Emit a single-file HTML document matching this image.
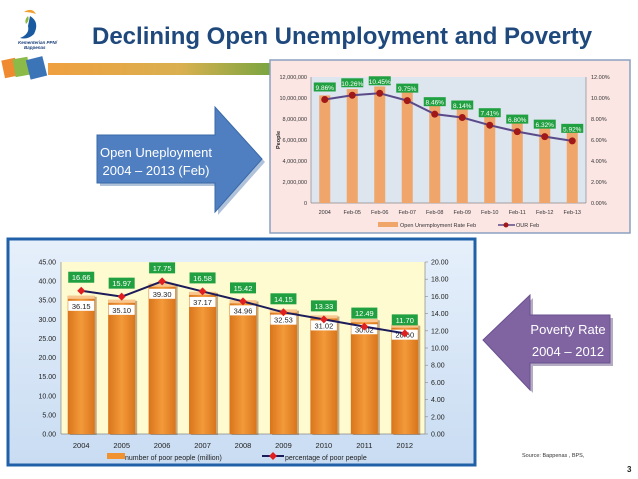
<!DOCTYPE html>
<html><head><meta charset="utf-8"><style>
body{margin:0;background:#fff;}
svg{display:block;font-family:"Liberation Sans",sans-serif;}
</style></head><body>
<svg id="s" width="638" height="479" viewBox="0 0 638 479">
<defs>
<linearGradient id="gbar" x1="0" x2="1"><stop offset="0" stop-color="#f0a040"/><stop offset="0.6" stop-color="#d9b050"/><stop offset="1" stop-color="#7aa540"/></linearGradient>
<linearGradient id="gbg" x1="0" y1="0" x2="0" y2="1"><stop offset="0" stop-color="#e6f0fb"/><stop offset="1" stop-color="#c9dcf2"/></linearGradient>
<linearGradient id="gob" x1="0" x2="1"><stop offset="0" stop-color="#d9751c"/><stop offset="0.5" stop-color="#f39a3a"/><stop offset="1" stop-color="#d9751c"/></linearGradient>
</defs>
<!-- logo -->
<g>
<path d="M24 12 q8 -5 12 2 q-6 -2 -12 -2z" fill="#f0a030"/>
<path d="M30 16 q10 6 4 18 q-6 6 -14 4 q10 -4 8 -12z" fill="#1a5aa0"/>
<path d="M28 16 q2 4 -2 8 q-2 -4 2 -8z" fill="#8ab840"/>
<text x="18" y="44" font-size="4.5" fill="#1a3f7a" font-style="italic" font-weight="bold">Kementerian PPN/</text>
<text x="24" y="49" font-size="4.5" fill="#1a3f7a" font-style="italic" font-weight="bold">Bappenas</text>
<rect x="3" y="59" width="14" height="18" fill="#ef8a30" transform="rotate(-12 10 68)"/>
<rect x="14" y="58" width="15" height="18" fill="#8cba48" transform="rotate(-10 21 67)"/>
<rect x="28" y="58" width="17" height="20" fill="#3c74b8" transform="rotate(-14 36 68)"/>
</g>
<rect x="48" y="63" width="222" height="12" fill="url(#gbar)"/>
<text x="92" y="44" font-size="24" font-weight="bold" fill="#1f497d">Declining Open Unemployment and Poverty</text>
<!-- blue arrow -->
<g>
<polygon points="100,138 218,138 218,110 265,162 218,215 218,186 100,186" fill="#7a9ac0" opacity="0.6"/>
<polygon points="97,135 215,135 215,107 262,159 215,212 215,183 97,183" fill="#4f7fc0" stroke="#3a68a8"/>
<text x="156" y="157" font-size="13" fill="#fff" text-anchor="middle">Open Uneployment</text>
<text x="156" y="175" font-size="13" fill="#fff" text-anchor="middle">2004 – 2013 (Feb)</text>
</g>
<!-- purple arrow -->
<g>
<polygon points="486,343 533,298 533,318 613,318 613,366 533,366 533,393" fill="#6a5a88" opacity="0.5"/>
<polygon points="483,340 530,295 530,315 610,315 610,363 530,363 530,390" fill="#8064a2" stroke="#6a5090"/>
<text x="568" y="334" font-size="13" fill="#fff" text-anchor="middle">Poverty Rate</text>
<text x="568" y="356" font-size="13" fill="#fff" text-anchor="middle">2004 – 2012</text>
</g>
<text x="522" y="457" font-size="5.5" fill="#333">Source: Bappenas , BPS,</text>
<text x="627" y="472" font-size="8" font-weight="bold" fill="#222">3</text>
<g id="top"></g>
<g id="bot"></g>
</svg>
<script>
const topCats=["2004","Feb-05","Feb-06","Feb-07","Feb-08","Feb-09","Feb-10","Feb-11","Feb-12","Feb-13"];
const topPeople=[10250000,10850000,11100000,10550000,9430000,9260000,8590000,8120000,7610000,7170000];
const topRate=[9.86,10.26,10.45,9.75,8.46,8.14,7.41,6.80,6.32,5.92];
const topLeftTicks=[0,2000000,4000000,6000000,8000000,10000000,12000000];
const topRightTicks=[0,2,4,6,8,10,12];
const botCats=["2004","2005","2006","2007","2008","2009","2010","2011","2012"];
const botPoor=[36.15,35.10,39.30,37.17,34.96,32.53,31.02,30.02,28.60];
const botPct=[16.66,15.97,17.75,16.58,15.42,14.15,13.33,12.49,11.70];
const botLeftTicks=[0,5,10,15,20,25,30,35,40,45];
const botRightTicks=[0,2,4,6,8,10,12,14,16,18,20];
const NS="http://www.w3.org/2000/svg";
function mk(p,t,a,txt){const e=document.createElementNS(NS,t);for(const k in a)e.setAttribute(k,a[k]);if(txt!==undefined)e.textContent=txt;p.appendChild(e);return e;}
function fmt(n){return n.toString().replace(/\B(?=(\d{3})+(?!\d))/g,",");}
// TOP
(function(){
const g=document.getElementById('top');
const X0=311,X1=586,Y0=203,Y1=77;
const yL=v=>Y0-(v/12000000)*(Y0-Y1);
const yR=v=>Y0-(v/12)*(Y0-Y1);
const bw=(X1-X0)/topCats.length;
const xc=i=>X0+bw*(i+0.5);
let r=mk(g,'rect',{x:270,y:60,width:360,height:173,fill:'#fbe6e4',stroke:'#8aa0c0','stroke-width':1.5});


mk(g,'rect',{x:X0,y:Y1,width:X1-X0,height:Y0-Y1,fill:'#dde5ef'});
topLeftTicks.forEach(v=>{const t=mk(g,'text',{x:X0-4,y:yL(v)+2,'font-size':5.5,fill:'#333','text-anchor':'end'},fmt(v));

});
topRightTicks.forEach(v=>{const t=mk(g,'text',{x:X1+5,y:yR(v)+2,'font-size':5.5,fill:'#333'},v.toFixed(2)+'%');

});
mk(g,'line',{x1:X0,y1:Y1,x2:X0,y2:Y0,stroke:'#888','stroke-width':0.7});
mk(g,'line',{x1:X1,y1:Y1,x2:X1,y2:Y0,stroke:'#888','stroke-width':0.7});
mk(g,'line',{x1:X0,y1:Y0,x2:X1,y2:Y0,stroke:'#888','stroke-width':0.7});
const yt=mk(g,'text',{x:0,y:0,'font-size':5.5,'font-weight':'bold',fill:'#222',transform:'translate(280 140) rotate(-90)','text-anchor':'middle'},'People');


topPeople.forEach((v,i)=>{const b=mk(g,'rect',{x:xc(i)-5.5,y:yL(v),width:11,height:Y0-yL(v),fill:'#f0a56a'});

});
mk(g,'polyline',{points:topRate.map((v,i)=>xc(i)+','+yR(v)).join(' '),fill:'none',stroke:'#5a4a8a','stroke-width':2});
topRate.forEach((v,i)=>{const c=mk(g,'circle',{cx:xc(i),cy:yR(v),r:3.5,fill:'#a01818'});


const y=yR(v)-12;
mk(g,'rect',{x:xc(i)-11,y:y-5,width:22,height:9,fill:'#20a040'});
const t=mk(g,'text',{x:xc(i),y:y+2.5,'font-size':6.5,fill:'#fff','text-anchor':'middle'},v.toFixed(2)+'%');

});
topCats.forEach((c,i)=>{const t=mk(g,'text',{x:xc(i),y:214,'font-size':5.5,fill:'#333','text-anchor':'middle'},c);

});
mk(g,'rect',{x:378,y:222,width:20,height:5,fill:'#f0a56a'});
mk(g,'text',{x:400,y:227,'font-size':5.5,fill:'#333'},'Open Unemployment Rate Feb');
mk(g,'line',{x1:498,y1:225,x2:515,y2:225,stroke:'#5a4a8a','stroke-width':1.5});
mk(g,'circle',{cx:506,cy:225,r:2.5,fill:'#a01818'});
mk(g,'text',{x:516,y:227,'font-size':5.5,fill:'#333'},'OUR Feb');
})();
// BOTTOM
(function(){
const g=document.getElementById('bot');
const X0=61,X1=425,Y0=434,Y1=262;
const yL=v=>Y0-(v/45)*(Y0-Y1);
const yR=v=>Y0-(v/20)*(Y0-Y1);
const bw=(X1-X0)/botCats.length;
const xc=i=>X0+bw*(i+0.5);
const f=mk(g,'rect',{x:8,y:239,width:467,height:226,fill:'url(#gbg)',stroke:'#2060a8','stroke-width':3});


mk(g,'rect',{x:X0,y:Y1,width:X1-X0,height:Y0-Y1,fill:'#fffbd0'});
botLeftTicks.forEach(v=>{const t=mk(g,'text',{x:X0-5,y:yL(v)+2.5,'font-size':7,fill:'#222','text-anchor':'end'},v.toFixed(2));

});
botRightTicks.forEach(v=>{const t=mk(g,'text',{x:X1+6,y:yR(v)+2.5,'font-size':7,fill:'#222'},v.toFixed(2));


mk(g,'line',{x1:X1,y1:yR(v),x2:X1+3,y2:yR(v),stroke:'#888','stroke-width':0.6});});
mk(g,'line',{x1:X0,y1:Y1,x2:X0,y2:Y0,stroke:'#888','stroke-width':0.7});
mk(g,'line',{x1:X1,y1:Y1,x2:X1,y2:Y0,stroke:'#888','stroke-width':0.7});
mk(g,'line',{x1:X0,y1:Y0,x2:X1,y2:Y0,stroke:'#888','stroke-width':0.7});
botPoor.forEach((v,i)=>{const x=xc(i)-13.5,y=yL(v);
mk(g,'rect',{x:x+2,y:y+1,width:27,height:Y0-y,fill:'#8a5a30',opacity:0.5});
const b=mk(g,'rect',{x:x,y:y,width:27,height:Y0-y,fill:'url(#gob)'});


mk(g,'rect',{x:x,y:y,width:27,height:3,fill:'#f8c890'});
mk(g,'rect',{x:xc(i)-13,y:y+5,width:26,height:10,fill:'#fff'});
const t=mk(g,'text',{x:xc(i),y:y+13,'font-size':7.5,fill:'#222','text-anchor':'middle'},v.toFixed(2));

});
mk(g,'polyline',{points:botPct.map((v,i)=>xc(i)+','+yR(v)).join(' '),fill:'none',stroke:'#1c1c5a','stroke-width':2});
botPct.forEach((v,i)=>{const x=xc(i),y=yR(v);
const d=mk(g,'polygon',{points:`${x},${y-4} ${x+4},${y} ${x},${y+4} ${x-4},${y}`,fill:'#e02020'});


const ly=y-13;
mk(g,'rect',{x:x-13,y:ly-6,width:26,height:11,fill:'#20a040'});
const t=mk(g,'text',{x:x,y:ly+2.5,'font-size':7.5,fill:'#fff','text-anchor':'middle'},v.toFixed(2));

});
botCats.forEach((c,i)=>{const t=mk(g,'text',{x:xc(i),y:448,'font-size':7.5,fill:'#222','text-anchor':'middle'},c);

});
mk(g,'rect',{x:107,y:453,width:18,height:6,fill:'#f0922f'});
mk(g,'text',{x:125,y:460,'font-size':7,fill:'#222'},'number of poor people (million)');
mk(g,'line',{x1:262,y1:456,x2:284,y2:456,stroke:'#1c1c5a','stroke-width':2});
mk(g,'polygon',{points:'273,452 277,456 273,460 269,456',fill:'#e02020'});
mk(g,'text',{x:285,y:460,'font-size':7,fill:'#222'},'percentage of poor people');
})();
</script>
</body></html>
